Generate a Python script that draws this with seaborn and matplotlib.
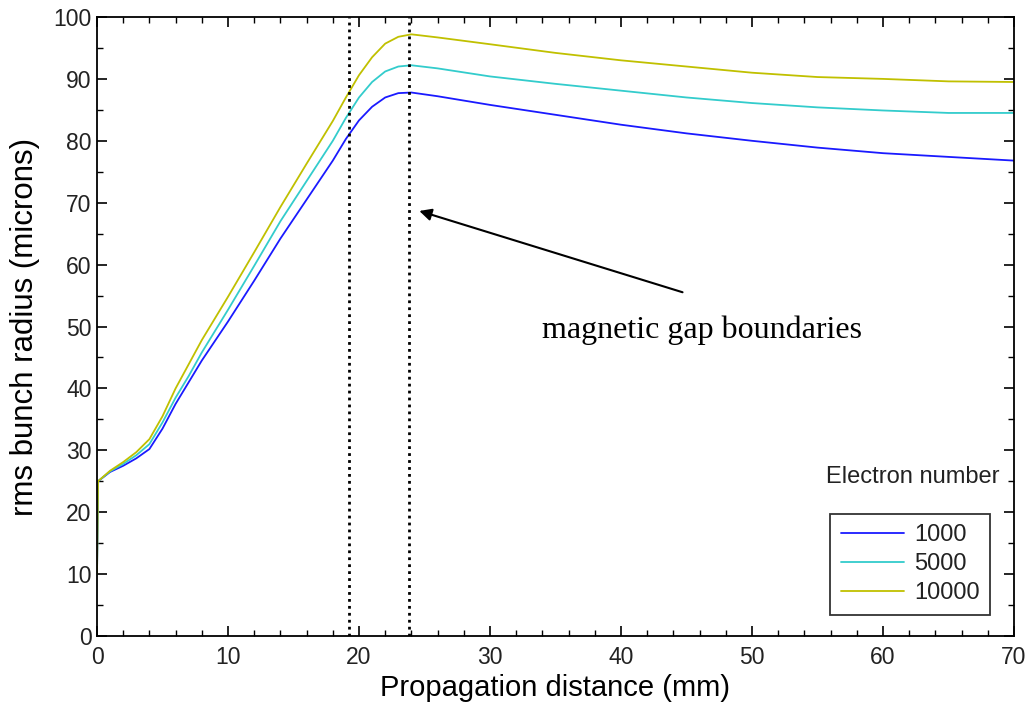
import numpy as np
import pandas as pd
import matplotlib
matplotlib.use("Agg")
import matplotlib.pyplot as plt
import seaborn as sns
from matplotlib.ticker import MultipleLocator

# Data
x_vals = [0.0, 0.08, 1, 2, 3, 4, 5, 6, 7, 8, 10, 12, 14, 16, 18, 19, 20, 21, 22, 23, 24, 26, 30, 35, 40, 45, 50, 55, 60, 65, 70]
r_1000 = [10, 25, 26.5, 27.5, 28.7, 30.2, 33.5, 37.5, 41, 44.5, 50.8, 57.4, 64.2, 70.5, 76.8, 80.3, 83.3, 85.5, 87.0, 87.7, 87.8, 87.2, 85.8, 84.2, 82.6, 81.2, 80.0, 78.9, 78.0, 77.4, 76.8]
r_5000 = [10, 25, 26.6, 27.8, 29.2, 31.0, 34.5, 38.5, 42, 45.8, 52.7, 59.8, 67.0, 73.5, 80.0, 83.7, 87.0, 89.5, 91.2, 92.0, 92.2, 91.7, 90.4, 89.2, 88.1, 87.0, 86.1, 85.4, 84.9, 84.5, 84.5]
r_10000 = [10, 25, 26.7, 28.1, 29.7, 31.8, 35.5, 40.0, 43.9, 47.8, 54.8, 62.0, 69.3, 76.3, 83.2, 87.0, 90.6, 93.5, 95.7, 96.8, 97.2, 96.7, 95.6, 94.2, 93.0, 92.0, 91.0, 90.3, 90.0, 89.6, 89.5]
electron_numbers = ["1000", "5000", "10000"]
gap_bounds = [19.25, 23.8]

df = pd.concat([
    pd.DataFrame({"x": x_vals, "r": r, "N": n})
    for r, n in zip([r_1000, r_5000, r_10000], electron_numbers)
])

sns.set_theme(style="white")
plt.rcParams['font.family'] = ['Liberation Sans', 'DejaVu Sans']

fig = plt.figure(figsize=(10.33, 7.08), dpi=100)
ax = fig.add_axes([97/1033, 1-636/708, (1014-97)/1033, (636-17)/708])

palette = {"1000": "#1a1aff", "5000": "#33cccc", "10000": "#c0c000"}
sns.lineplot(data=df, x="x", y="r", hue="N", palette=palette, ax=ax, linewidth=1.3,
             legend=True, estimator=None, sort=False)

for g in gap_bounds:
    ax.axvline(g, color="black", linestyle=(0, (1, 1.5)), linewidth=2)

ax.set_xlim(0, 70)
ax.set_ylim(0, 100)
ax.xaxis.set_major_locator(MultipleLocator(10))
ax.xaxis.set_minor_locator(MultipleLocator(2))
ax.yaxis.set_major_locator(MultipleLocator(10))
ax.yaxis.set_minor_locator(MultipleLocator(5))
ax.tick_params(which="both", direction="in", top=True, right=True, bottom=True, left=True, color="black")
ax.tick_params(which="major", length=7, width=1.2, labelsize=16.5, labelcolor="#222222")
ax.tick_params(axis="x", which="major", pad=7)
ax.tick_params(axis="y", which="major", pad=4)
ax.tick_params(which="minor", length=4, width=1.0)
for s in ax.spines.values():
    s.set_color("black")
    s.set_linewidth(1.3)

ax.set_xlabel("Propagation distance (mm)", fontsize=21, color="black")
ax.set_ylabel("rms bunch radius (microns)", fontsize=22.5, color="black")
ax.xaxis.set_label_coords(0.5, -38/619, transform=ax.transAxes)
ax.yaxis.set_label_coords(-57/917, 0.5, transform=ax.transAxes)

leg = ax.legend(loc="lower right", bbox_to_anchor=((990-97)/917, (636-615)/619), fontsize=17, frameon=True,
                fancybox=False, edgecolor="black", handlelength=2.7, borderpad=0.45,
                labelspacing=0.3, handletextpad=0.4, borderaxespad=0)
leg.get_frame().set_linewidth(1.3)
for t in leg.get_texts():
    t.set_color("#222222")
ax.text((1000-97)/917, (636-477)/619, "Electron number", transform=ax.transAxes,
        ha="right", va="center", fontsize=17, color="#222222")

ax.annotate("", xy=(24.4, 68.8), xytext=(44.9, 55.4),
            arrowprops=dict(arrowstyle="-|>", color="black", lw=1.5, mutation_scale=18))
ax.text(46.2, 49.4, "magnetic gap boundaries", ha="center", va="center", fontsize=23,
        family=["Liberation Serif", "DejaVu Serif"], color="black")

fig.savefig("out.png", dpi=100)
